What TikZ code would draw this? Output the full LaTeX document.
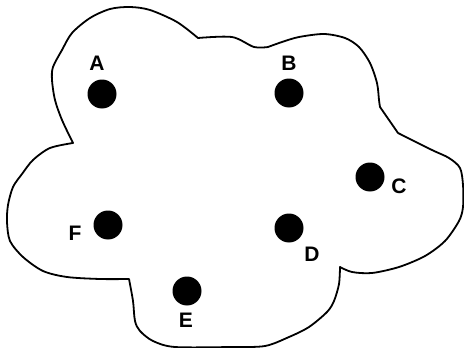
\documentclass[tikz,border=0pt]{standalone}
\usepackage{fontspec}
\setmainfont{Liberation Sans}

\begin{document}
\begin{tikzpicture}[
			x=1pt,
			y=-1pt,
			ponto/.style={circle, fill=black, minimum size=29pt, inner sep=0pt},
			rotulo/.style={font=\bfseries\fontsize{21}{23}\selectfont, inner sep=0pt}
		]
		\useasboundingbox (0,0) rectangle (464,348);

		% ---- contorno (nuvem) ------------------------------------------
		\draw[line width=1.8pt, line join=round]
			plot[smooth] coordinates {(73,143) (62,120) (55,100) (52,80) (53,67) (62,50) (72,33) (90,18) (110,9) (130,7) (150,10) (177,22) (198,38)}
			-- plot[smooth] coordinates {(198,38) (232,37) (254,47) (268,47)}
			-- plot[smooth] coordinates {(268,47) (282,42) (299,37) (324,34) (345,38) (359,47) (370,63) (377,83) (379,100) (380,107)}
			-- plot[smooth] coordinates {(398,133) (432,150) (449,158) (460,168) (463,185) (463,207) (459,221) (445,241) (425,256) (399,267) (372,273) (352,272) (340,267)}
			-- plot[smooth] coordinates {(340,267) (339,284) (334,301) (327,312) (309,327) (289,337) (265,346) (232,347) (175,347) (153,341) (140,331) (135,321) (133,301) (129,279)}
			-- plot[smooth] coordinates {(129,279) (100,279) (67,277) (43,271) (23,257) (10,241) (7,222) (8,205) (13,187) (22,174) (33,160) (50,148) (73,143)}
			-- cycle;

		% ---- pontos ----------------------------------------------------
		\node[ponto] (A) at (102,94) {};
		\node[ponto] (B) at (289,93) {};
		\node[ponto] (C) at (370,177) {};
		\node[ponto] (D) at (289,228) {};
		\node[ponto] (E) at (187,291) {};
		\node[ponto] (F) at (108,225) {};

		% ---- rotulos ---------------------------------------------------
		\node[rotulo] (labA) at (97,63) {A};
		\node[rotulo] (labB) at (289,63) {B};
		\node[rotulo] (labC) at (399,186) {C};
		\node[rotulo] (labD) at (312,254) {D};
		\node[rotulo] (labE) at (186,320) {E};
		\node[rotulo] (labF) at (75,233) {F};
	\end{tikzpicture}
\end{document}
